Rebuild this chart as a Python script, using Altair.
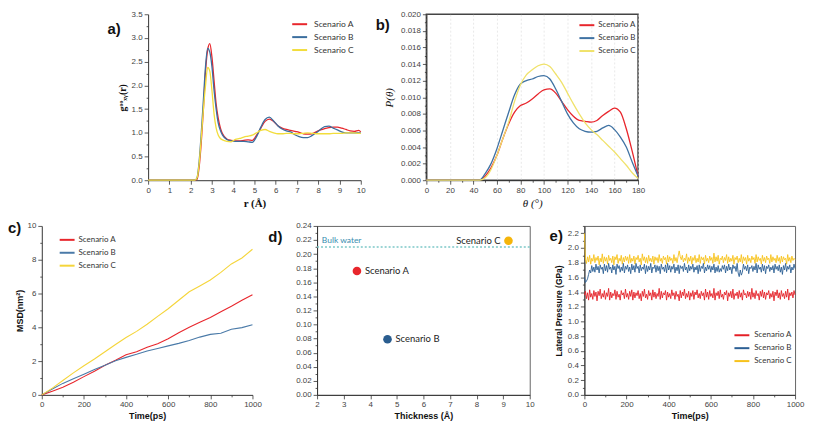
import altair as alt
import pandas as pd

SCEN = ["Scenario A", "Scenario B", "Scenario C"]

# ---------------- panel a : RDF ----------------
r_a = [0, 2.2, 2.3, 2.4, 2.5, 2.6, 2.7, 2.8, 2.9, 3.0, 3.1, 3.2, 3.3, 3.4, 3.5,
       3.7, 3.9, 4.1, 4.3, 4.5, 4.7, 4.9, 5.1, 5.3, 5.5, 5.7, 5.9, 6.1, 6.3, 6.5,
       6.7, 6.9, 7.1, 7.3, 7.5, 7.7, 7.9, 8.1, 8.3, 8.5, 8.7, 8.9, 9.1, 9.3, 9.5,
       9.7, 9.9, 10.0]
g_A = [0, 0, 0.02, 0.28, 0.80, 1.50, 2.30, 2.75, 2.88, 2.60, 2.10, 1.60, 1.30, 1.10, 0.98,
       0.87, 0.84, 0.83, 0.83, 0.84, 0.85, 0.84, 0.95, 1.10, 1.24, 1.29, 1.24, 1.15, 1.10, 1.07,
       1.05, 1.03, 1.01, 0.98, 0.97, 0.98, 1.02, 1.06, 1.09, 1.11, 1.12, 1.12, 1.10, 1.07, 1.04,
       1.03, 1.05, 1.02]
g_B = [0, 0, 0.05, 0.40, 1.00, 1.70, 2.40, 2.78, 2.70, 2.40, 1.90, 1.50, 1.20, 1.05, 0.95,
       0.86, 0.83, 0.82, 0.82, 0.82, 0.81, 0.80, 0.92, 1.12, 1.28, 1.33, 1.25, 1.15, 1.08, 1.04,
       1.02, 0.96, 0.92, 0.90, 0.90, 0.94, 1.00, 1.07, 1.13, 1.14, 1.10, 1.06, 1.02, 1.00, 1.00,
       1.00, 1.00, 1.00]
g_C = [0, 0, 0.05, 0.35, 0.90, 1.50, 2.00, 2.38, 2.30, 1.90, 1.40, 1.10, 0.95, 0.88, 0.85,
       0.82, 0.81, 0.86, 0.88, 0.91, 0.93, 0.95, 1.00, 1.05, 1.07, 1.03, 1.00, 0.98, 0.98, 0.99,
       0.99, 0.98, 0.98, 0.99, 1.00, 0.99, 0.98, 0.98, 0.98, 0.98, 0.99, 0.99, 0.99, 1.00, 1.00,
       1.00, 0.99, 0.99]

# ---------------- panel b : angle distribution ----------------
th_b = [0, 40, 45, 50, 55, 60, 65, 70, 75, 80, 85, 90, 95, 100, 105, 110, 115, 120,
        125, 130, 135, 140, 145, 150, 155, 160, 165, 170, 175, 180]
p_A = [0, 0, 0, 0.0005, 0.0015, 0.003, 0.005, 0.0068, 0.0082, 0.009, 0.0093, 0.0098,
       0.0104, 0.0109, 0.011, 0.0105, 0.0095, 0.0085, 0.0077, 0.0072, 0.0071, 0.0070,
       0.0072, 0.0078, 0.0083, 0.0087, 0.0082, 0.0062, 0.0035, 0.0005]
p_B = [0, 0, 0, 0.0008, 0.002, 0.0038, 0.006, 0.0082, 0.0103, 0.0116, 0.012, 0.0122,
       0.0125, 0.0126, 0.0122, 0.011, 0.0095, 0.008, 0.0069, 0.0062, 0.0059, 0.0058,
       0.0059, 0.0063, 0.0066, 0.0061, 0.0052, 0.004, 0.0022, 0.0005]
p_C = [0, 0, 0, 0.0003, 0.0013, 0.003, 0.005, 0.007, 0.0095, 0.0115, 0.0127, 0.0133,
       0.0138, 0.014, 0.0137, 0.0128, 0.0118, 0.0105, 0.0092, 0.008, 0.0069, 0.0061,
       0.0055, 0.0048, 0.0041, 0.0034, 0.0026, 0.0018, 0.0009, 0.0002]

# ---------------- panel c : MSD ----------------
t_c = [0, 50, 100, 150, 200, 250, 300, 350, 400, 450, 500, 550, 600, 650, 700, 750,
       800, 850, 900, 950, 1000]
msd_A = [0, 0.22, 0.45, 0.75, 1.08, 1.40, 1.75, 2.05, 2.38, 2.55, 2.82, 3.02, 3.32,
         3.68, 4.00, 4.30, 4.58, 4.92, 5.25, 5.60, 5.93]
msd_B = [0, 0.35, 0.68, 0.95, 1.22, 1.50, 1.75, 2.02, 2.22, 2.40, 2.60, 2.75, 2.90,
         3.05, 3.22, 3.42, 3.58, 3.65, 3.88, 3.98, 4.15]
msd_C = [0, 0.40, 0.85, 1.30, 1.72, 2.12, 2.55, 2.98, 3.40, 3.76, 4.18, 4.65, 5.10,
         5.60, 6.10, 6.45, 6.80, 7.25, 7.75, 8.10, 8.62]

# ---------------- panel d : scatter ----------------
thick_d = [3.5, 4.65, 9.2]
val_d = [0.176, 0.079, 0.219]
bulk_value = 0.21
bulk_label = "Bulk water"

# ---------------- panel e : lateral pressure (GPa x 100, every 5 ps) ----------------
lp_A_txt = """
136 141 131 139 129 143 133 138 130 142 134 140 128 141 135 144 131 138 133 142
130 139 134 145 129 140 132 138 135 143 130 141 133 137 129 142 136 139 131 144
133 138 130 141 134 143 129 140 132 139 135 142 131 138 128 141 134 144 132 137
130 142 135 139 129 143 133 140 131 138 134 145 130 141 132 139 136 142 129 140
133 138 131 143 135 139 130 141 134 137 128 142 132 140 135 144 131 138 133 141
129 139 134 142 130 140 136 143 132 138 131 141 135 139 129 144 133 140 130 142
134 138 132 145 129 139 135 141 131 143 133 137 130 140 136 142 128 139 134 141
132 144 130 138 135 140 131 142 133 139 129 143 136 138 132 141 134 140 130 145
133 139 131 142 135 138 129 141 134 143 132 140 130 139 136 142 131 138 133 141
128 140 135 143 132 139 130 142 134 138 131 141 133 144 129 139 135 140 132 142
136
"""
lp_B_txt = """
160 153 155 158 164 170 166 176 168 174 167 178 170 175 166 177 171 174 165 178
169 176 167 179 171 174 166 177 170 175 164 178 172 176 167 174 169 179 166 175
171 177 168 174 165 178 170 176 167 179 172 175 166 177 169 174 171 178 165 176
168 175 170 179 166 174 172 177 167 176 169 175 165 178 171 174 168 177 166 179
170 176 167 175 171 178 166 174 169 177 165 176 172 175 168 179 170 174 166 177
169 175 171 178 167 174 170 176 165 177 168 175 172 179 166 174 169 177 171 176
167 175 170 178 166 174 168 176 167 172 168 176 171 177 166 175 169 178 170 174
165 177 172 175 168 179 166 161 170 163 167 178 171 175 169 177 165 174 172 176
168 175 170 179 166 177 171 174 167 178 169 176 165 175 172 177 168 174 170 176
166 178 171 175 169 177 167 174 164 176 170 179 168 175 171 177 166 174 170 178
172
"""
lp_C_txt = """
220 185 179 188 181 190 178 186 182 191 180 187 183 189 177 186 181 192 179 188
182 187 178 190 183 186 180 189 177 188 184 191 179 186 182 190 178 187 181 189
183 188 179 191 180 186 182 189 178 187 184 190 181 186 177 192 183 188 180 187
179 190 182 186 181 189 178 188 183 187 180 191 182 186 179 189 184 187 178 190
181 188 183 186 179 191 182 187 180 189 196 188 184 190 181 186 183 192 179 187
182 189 178 187 183 190 180 186 181 191 179 188 184 187 178 190 182 186 180 189
183 187 179 193 181 188 182 190 178 186 184 189 180 187 183 191 179 188 181 186
182 190 178 187 184 189 180 186 181 191 179 188 183 187 178 190 182 186 180 189
184 187 179 191 181 188 183 186 178 190 182 187 180 189 184 186 179 191 181 188
183 186 180 190 182 187 179 189 181 188 184 186 178 191 182 187 180 189 183 186
184
"""
lp_A = [int(v) / 100 for v in lp_A_txt.split()]
lp_B = [int(v) / 100 for v in lp_B_txt.split()]
lp_C = [int(v) / 100 for v in lp_C_txt.split()]


def long_df(xs, ys_list, names, xn, yn):
    rows = []
    for name, ys in zip(names, ys_list):
        for x, y in zip(xs, ys):
            rows.append({xn: x, yn: y, "scenario": name})
    return pd.DataFrame(rows)


def mk_axis(major, minor, lo, hi, fmt, title, **kw):
    n = int(round((hi - lo) / minor))
    vals = [round(lo + i * minor, 6) for i in range(n + 1)]
    test = f"abs(datum.value/{major} - round(datum.value/{major})) < 1e-6"
    return alt.Axis(values=vals, format=fmt, title=title,
                    labelExpr=f"({test}) ? datum.label : ''",
                    tickSize={"condition": {"test": test, "value": 4}, "value": 2},
                    labelOverlap=False, labelFlush=False, **kw)


def legend(x, y, rowpad, off, size=8.5):
    return alt.Legend(orient="none", legendX=x, legendY=y, title=None,
                      symbolType="stroke", symbolSize=225, symbolStrokeWidth=2,
                      labelFont="Lato", labelFontSize=size, labelColor="#333",
                      rowPadding=rowpad, labelOffset=off, padding=0)


def letter(ch, dx, dy):
    return alt.Chart(pd.DataFrame({"t": [ch]})).mark_text(
        align="left", baseline="middle", fontSize=15, fontWeight="bold",
        font="Liberation Sans", color="#111"
    ).encode(x=alt.value(dx), y=alt.value(dy), text="t:N")


def spacer(w, h):
    return alt.Chart(pd.DataFrame({"v": [0]})).mark_rect(opacity=0).encode(
        x=alt.value(0), x2=alt.value(w), y=alt.value(0), y2=alt.value(h)
    ).properties(width=w, height=h)


H1 = 167
H2 = 170

# ---- a ----
df_a = long_df(r_a, [g_A, g_B, g_C], SCEN, "r", "g")
line_a = alt.Chart(df_a).mark_line(strokeWidth=1.3, interpolate="monotone").encode(
    x=alt.X("r:Q", scale=alt.Scale(domain=[0, 10], nice=False),
            axis=mk_axis(1, 0.5, 0, 10, "d", "r (Å)", titleFont="Liberation Serif",
                         titleFontSize=11, titlePadding=3)),
    y=alt.Y("g:Q", scale=alt.Scale(domain=[0, 3.5], nice=False),
            axis=mk_axis(0.5, 0.25, 0, 3.5, ".1f", "gᵒᵒₓᵧ(r)", titleFont="Liberation Serif",
                         titleFontSize=10, titlePadding=4)),
    color=alt.Color("scenario:N", scale=alt.Scale(domain=SCEN, range=["#e8262c", "#3b6e9e", "#f2dd3c"]),
                    legend=legend(144, 1.5, -6, 6)),
)
A = alt.layer(line_a, letter("a)", -41, 15)).properties(width=214, height=H1)

# ---- b ----
df_b = long_df(th_b, [p_A, p_B, p_C], SCEN, "theta", "p")
line_b = alt.Chart(df_b).mark_line(strokeWidth=1.3, interpolate="monotone").encode(
    x=alt.X("theta:Q", scale=alt.Scale(domain=[0, 180], nice=False),
            axis=mk_axis(20, 10, 0, 180, "d", "θ (°)", titleFont="Liberation Serif",
                         titleFontSize=11, titleFontStyle="italic", titleFontWeight="normal",
                         titlePadding=3, grid=True, gridColor="#d8d8d8", gridDash=[2, 2],
                         gridWidth=0.6,
                         gridOpacity={"condition": {"test": "datum.value % 20 === 0", "value": 1}, "value": 0})),
    y=alt.Y("p:Q", scale=alt.Scale(domain=[0, 0.02], nice=False),
            axis=mk_axis(0.002, 0.001, 0, 0.02, ".3f", "P(θ)", titleFont="Liberation Serif",
                         titleFontSize=11, titleFontStyle="italic", titleFontWeight="normal",
                         titlePadding=6)),
    color=alt.Color("scenario:N", scale=alt.Scale(domain=SCEN, range=["#e8262c", "#3f72a3", "#f0e26a"]),
                    legend=legend(153, 2.5, -7, 3, 8)),
)
B = alt.layer(line_b, letter("b)", -51, 11)).properties(
    width=213, height=H1, view=alt.ViewBackground(stroke="#444", strokeWidth=1.5))

# ---- c ----
df_c = long_df(t_c, [msd_A, msd_B, msd_C], SCEN, "t", "msd")
line_c = alt.Chart(df_c).mark_line(strokeWidth=1.1).encode(
    x=alt.X("t:Q", scale=alt.Scale(domain=[0, 1000], nice=False),
            axis=mk_axis(200, 100, 0, 1000, "d", "Time(ps)", titlePadding=3)),
    y=alt.Y("msd:Q", scale=alt.Scale(domain=[0, 10], nice=False),
            axis=mk_axis(2, 1, 0, 10, "d", "MSD(nm²)", titlePadding=3)),
    color=alt.Color("scenario:N", scale=alt.Scale(domain=SCEN, range=["#e8262c", "#4a7aa8", "#f5d53a"]),
                    legend=legend(17, 5.5, -7, 3, 8)),
)
C = alt.layer(line_c, letter("c)", -34, 2)).properties(width=212, height=H2)

# ---- d ----
df_d = pd.DataFrame({"x": thick_d, "y": val_d, "scenario": SCEN})
xd = alt.X("x:Q", scale=alt.Scale(domain=[2, 10], nice=False),
           axis=mk_axis(1, 0.5, 2, 10, "d", "Thickness (Å)", titlePadding=3))
yd = alt.Y("y:Q", scale=alt.Scale(domain=[0, 0.24], nice=False),
           axis=mk_axis(0.02, 0.01, 0, 0.24, ".2f", None))
bulk_df = pd.DataFrame({"y": [bulk_value]})
bulk_lab = pd.DataFrame({"x": [2.18], "y": [0.2195], "t": [bulk_label]})
rule_d = alt.Chart(bulk_df).mark_rule(color="#7cc8c8", strokeDash=[2, 2], strokeWidth=1.5).encode(y=yd)
btxt_d = alt.Chart(bulk_lab).mark_text(align="left", baseline="middle", font="Lato", fontSize=8.5,
                                       color="#3a8eb0").encode(x=xd, y=yd, text="t:N")
pts_d = alt.Chart(df_d).mark_circle(size=75, opacity=1).encode(
    x=xd, y=yd,
    color=alt.Color("scenario:N", scale=alt.Scale(domain=SCEN, range=["#e8262c", "#2a5d8f", "#f5b50a"]),
                    legend=None))
lab_r = alt.Chart(df_d).mark_text(align="left", baseline="middle", dx=8, font="Lato", fontSize=9.5,
                                  color="#222").encode(x=xd, y=yd, text="scenario:N").transform_filter(
    alt.FieldOneOfPredicate(field="scenario", oneOf=SCEN[:2]))
lab_l = alt.Chart(df_d).mark_text(align="right", baseline="middle", dx=-8, font="Lato", fontSize=9.5,
                                  color="#222").encode(x=xd, y=yd, text="scenario:N").transform_filter(
    alt.FieldEqualPredicate(field="scenario", equal=SCEN[2]))
D = alt.layer(rule_d, btxt_d, pts_d, lab_r, lab_l, letter("d)", -49, 11)).properties(
    width=214, height=H2, view=alt.ViewBackground(stroke="#666", strokeWidth=1))

# ---- e ----
rows_e = []
for name, vals in [("Scenario C", lp_C), ("Scenario B", lp_B), ("Scenario A", lp_A)]:
    n = len(vals)
    for i, v in enumerate(vals):
        rows_e.append({"t": 1000 * i / (n - 1), "lp": v, "scenario": name})
df_e = pd.DataFrame(rows_e)
line_e = alt.Chart(df_e).mark_line(strokeWidth=0.9).encode(
    x=alt.X("t:Q", scale=alt.Scale(domain=[0, 1000], nice=False),
            axis=mk_axis(200, 100, 0, 1000, "d", "Time(ps)", titlePadding=3)),
    y=alt.Y("lp:Q", scale=alt.Scale(domain=[0, 2.3], nice=False),
            axis=mk_axis(0.2, 0.1, 0, 2.3, ".1f", "Lateral Pressure (GPa)", titlePadding=4,
                         titleFontSize=8.5)),
    color=alt.Color("scenario:N", scale=alt.Scale(domain=SCEN, range=["#e41f26", "#2c5f94", "#f7c21b"]),
                    legend=legend(150, 101.5, -6, 4, 8)),
)
E = alt.layer(line_e, letter("e)", -35, 10)).properties(
    width=212, height=H2, view=alt.ViewBackground(stroke="#666", strokeWidth=1))

row1 = alt.hconcat(spacer(107, H1), A, spacer(66, H1), B, spacing=0, bounds="flush").resolve_scale(
    color="independent").resolve_legend(color="independent")
row2 = alt.hconcat(C, spacer(65, H2), D, spacer(55, H2), E, spacing=0, bounds="flush").resolve_scale(
    color="independent").resolve_legend(color="independent")

chart = alt.vconcat(row1, row2, spacing=12).resolve_scale(color="independent").resolve_legend(
    color="independent").configure_axis(
    labelFont="Liberation Sans", labelFontSize=8, labelColor="#444",
    titleFont="Liberation Sans", titleFontSize=9, titleFontWeight="bold", titleColor="#111",
    domainColor="#333", tickColor="#333", tickWidth=0.8, domainWidth=1, grid=False, labelPadding=2,
).configure_view(strokeWidth=0).properties(padding=0)

chart.save("out.html", embed_options={"renderer": "svg", "actions": False})
